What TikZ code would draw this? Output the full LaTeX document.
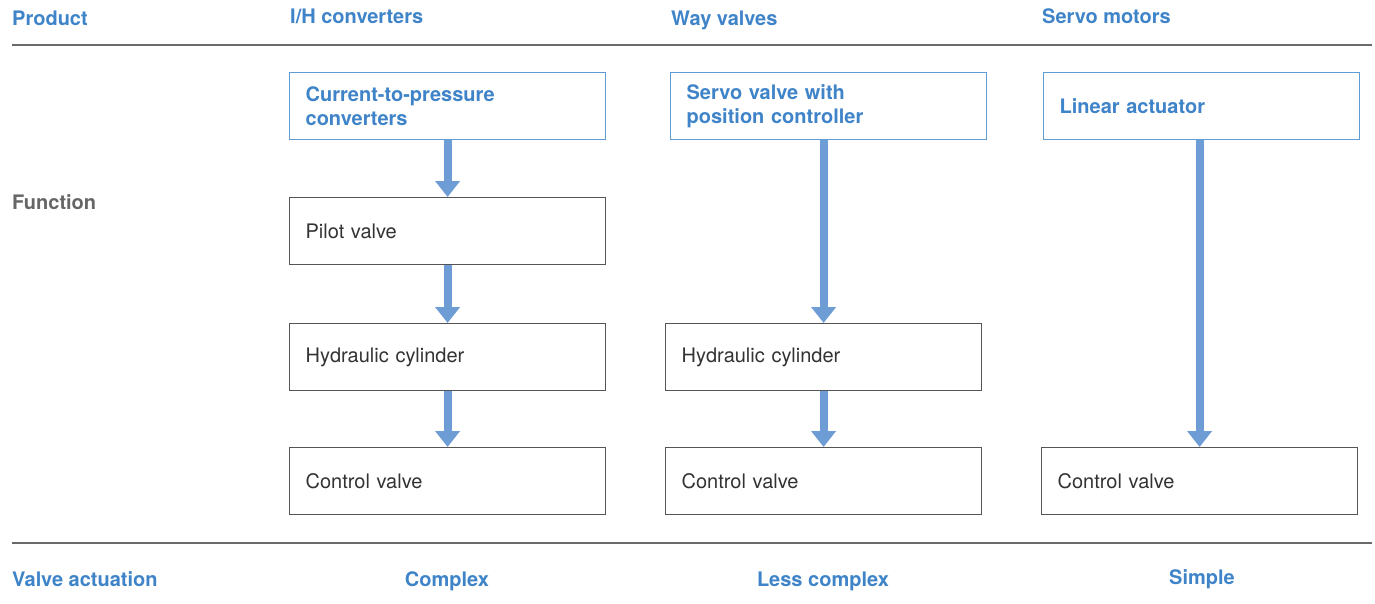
\documentclass[tikz,border=0pt]{standalone}
\usepackage{fontspec}
\setmainfont{TeX Gyre Heros}
\usepackage{xcolor}
\usepackage{tikz}
\usetikzlibrary{arrows.meta,positioning,calc}
\definecolor{headblue}{HTML}{3F84C8}
\definecolor{frameblue}{HTML}{5F9CD6}
\definecolor{arrowblue}{HTML}{6E9DD5}
\definecolor{rulegray}{HTML}{6A6A6A}
\definecolor{framegray}{HTML}{555555}
\definecolor{labelgray}{HTML}{666666}
\definecolor{textdark}{HTML}{333333}
\tikzset{
  headlabel/.style={anchor=base west, inner sep=0pt, font=\fontsize{20}{24}\selectfont\bfseries, text=headblue},
  footlabel/.style={anchor=base, inner sep=0pt, font=\fontsize{20}{24}\selectfont\bfseries, text=headblue},
  rowlabel/.style={anchor=base west, inner sep=0pt, font=\fontsize{20}{24}\selectfont\bfseries, text=labelgray},
  stagebox/.style={rectangle, draw=framegray, line width=1.2pt, anchor=north west, minimum width=316pt, minimum height=67pt, inner xsep=16pt, inner ysep=0pt, text width=284pt, align=left, font=\fontsize{20}{24}\selectfont, text=textdark, fill=white},
  productbox/.style={stagebox, draw=frameblue, line width=1.3pt, font=\fontsize{20}{24}\selectfont\bfseries, text=headblue},
  flowarrow/.style={-{Triangle[width=24pt, length=16pt]}, line width=8pt, draw=arrowblue},
  rowrule/.style={draw=rulegray, line width=1.5pt}
}
\begin{document}
\begin{tikzpicture}[x=1pt, y=-1pt]
  \useasboundingbox (0,0) rectangle (1375,603);
  % rules
  \coordinate (topl) at (12,45);
  \coordinate (topr) at (1372,45);
  \coordinate (botl) at (12,543);
  \coordinate (botr) at (1372,543);
  \draw[rowrule] (topl) -- (topr);
  \draw[rowrule] (botl) -- (botr);
  % header row
  \node[headlabel] (product) at (12,25) {Product};
  \node[headlabel] (ihconv) at (290,23) {I/H converters};
  \node[headlabel] (wayval) at (671,25) {Way valves};
  \node[headlabel] (servomot) at (1042,23) {Servo motors};
  \node[rowlabel] (function) at (12,209) {Function};
  % column I/H converters
  \node[productbox] (cpconv) at (289,72) {Current-to-pressure\\converters};
  \node[stagebox] (pilot) at (289,197) {Pilot valve};
  \node[stagebox] (hydone) at (289,323) {Hydraulic cylinder};
  \node[stagebox] (ctrlone) at (289,447) {Control valve};
  % column way valves
  \node[productbox] (servoval) at (670,72) {Servo valve with\\position controller};
  \node[stagebox] (hydtwo) at (665,323) {Hydraulic cylinder};
  \node[stagebox] (ctrltwo) at (665,447) {Control valve};
  % column servo motors
  \node[productbox] (linact) at (1043,72) {Linear actuator};
  \node[stagebox] (ctrlthree) at (1041,447) {Control valve};
  % arrows
  \draw[flowarrow] (cpconv.south -| pilot.north) -- (pilot.north);
  \draw[flowarrow] (pilot.south) -- (hydone.north);
  \draw[flowarrow] (hydone.south) -- (ctrlone.north);
  \draw[flowarrow] (servoval.south -| hydtwo.north) -- (hydtwo.north);
  \draw[flowarrow] (hydtwo.south) -- (ctrltwo.north);
  \draw[flowarrow] (linact.south -| ctrlthree.north) -- (ctrlthree.north);
  % footer row
  \node[rowlabel, text=headblue] (actuation) at (12,586) {Valve actuation};
  \node[footlabel] (complex) at (447,586) {Complex};
  \node[footlabel] (lesscomplex) at (823,586) {Less complex};
  \node[footlabel] (simple) at (1202,584) {Simple};
\end{tikzpicture}
\end{document}
